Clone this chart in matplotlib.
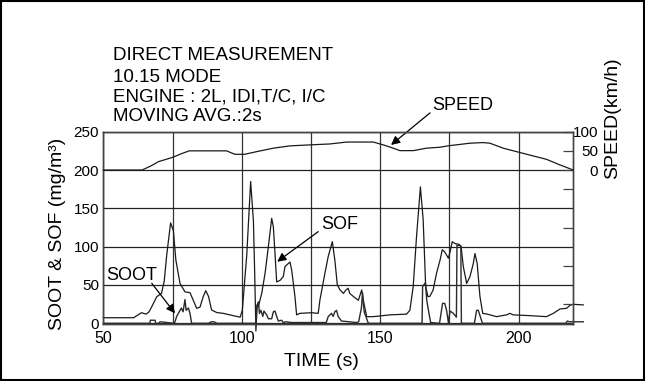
import matplotlib
matplotlib.use('Agg')
import matplotlib.pyplot as plt
from matplotlib.patches import Rectangle

plt.rcParams['font.family'] = ['Liberation Sans', 'DejaVu Sans']

# ---------------- data ----------------
sof_t = [50, 61, 62.5, 63.8, 65.5, 66.5, 67.5, 69.3, 71, 72, 72.9, 74.3, 75.3, 76.2, 77.7,
         79.5, 81.3, 82.5, 83.7, 84.9, 86.1, 87, 88, 89.1, 91, 93.3, 96.9, 99.4, 100.2,
         101.8, 103.2, 104.2, 104.7, 105.1, 105.6, 106, 107.2, 108.4, 109.6, 110.8, 111.4,
         112, 112.6, 113.8, 115, 115.6, 116.8, 117.4, 118, 119.2, 119.8, 121, 125.2, 127.6,
         128.2, 130, 131.2, 132.7, 133.6, 134.5, 135.5, 136.7, 137.6, 138.4, 139, 140.3,
         142.1, 143.3, 143.9, 145.1, 147.5, 153.5, 159.5, 160.7, 161.9, 163.1, 164.5, 165.5,
         166.4, 167.2, 167.9, 169.1, 170.3, 171.6, 172.4, 173.3, 174.6, 175.2, 176, 177,
         178.5, 179.2, 180, 181.2, 182.4, 183.6, 184.2, 185, 186, 187, 188.6, 192, 195.6,
         196.8, 198, 204, 210, 212.5, 214.9, 217.3, 218.5, 219.7, 223.3]
sof_v = [7.3, 7.3, 11, 13.8, 12, 15, 21.7, 34.7, 39, 55, 89, 131, 121, 82.6, 52,
         41, 40, 30, 19.6, 21, 35, 42.6, 35, 17.4, 14, 13, 10, 8, 17,
         89, 185, 134, 60, -10, 25, 22, 39, 65, 100, 137, 126,
         91, 54, 56, 61, 74, 78, 80, 70, 35, 11, 13, 13.8, 13,
         30, 65, 87, 106.5, 82.6, 50, 43.5, 39, 43.5, 45.7, 39, 35,
         30, 43.5, 30, 8.7, 8.7, 11, 12, 17, 48, 113, 178, 135,
         48, 35, 35, 43.5, 65, 82.6, 96, 93, 85, 93, 106.5, 104,
         103, 100, 74, 52, 61, 78, 91, 78, 35, 13, 12, 8.7, 11,
         13, 11, 10, 8.7, 13, 18.7, 19.6, 23.5, 24.8, 24]

soot_t = [50, 66.8, 67, 68.7, 68.9, 70, 70.5, 75.7, 76.5, 77.4, 78.2, 78.8, 79.5, 79.9,
          80.7, 81.3, 81.9, 88, 89, 90, 91, 104.2, 105.0, 105.4, 106, 106.4, 106.9, 107.6,
          108, 109, 109.6, 110.8, 111.4, 112, 112.6, 113.2, 114.4, 115, 116, 118, 130.5,
          131.2, 132.4, 133, 133.6, 134.2, 134.8, 136, 141.5, 142.2, 143.2, 143.6, 144.2,
          145.7, 165.1, 165.3, 166.3, 166.8, 167.5, 168.2, 171.4, 172.5, 173.3, 174, 174.6,
          175.2, 176.4, 177.5, 177.7, 179.1, 179.3, 184, 184.8, 185.4, 186.9, 217, 217.6,
          218.2, 223.3]
soot_v = [0, 0, 4, 4, 0, 0, 2, 0, 9, 15, 20, 15, 31, 17,
          20, 13, 0, 0, 2, 2, 0, 0, 0, 22, 28, 13, 17, 9,
          16, 11, 6, 6, 15, 16, 9, 3, 4, 1, 2, 1, 1,
          8.7, 13, 9, 15, 17, 9, 3, 1, 2, 20, 40, 15,
          0, 0, 48, 53, 30, 15, 1, 0, 26, 26, 16, 1,
          16, 13, 8, 102, 101, 0, 0, 17, 17, 0, 0, 3,
          2, 2]

speed_t = [50, 64, 67, 70, 75, 78, 81, 94.5, 97.5, 101, 105.4, 111.4, 117.4, 124.6, 131.8,
           137.9, 147.5, 151.1, 154.7, 157.1, 161.9, 166.7, 171.6, 174.4, 182.4, 187.2,
           189.6, 194.4, 199.2, 205.2, 210, 214.9, 219.7]
speed_v = [0, 0, 10, 22, 33, 42, 50, 50, 41, 41, 48, 57, 63, 65.6, 68,
           73, 73, 65.6, 57, 50.6, 50.6, 57, 59.5, 63, 70, 71.6,
           70, 57, 48, 36.8, 28, 13.3, 0]

x_ticks = [50, 100, 150, 200]
x_minor = [75, 125, 175]
y_ticks = [0, 50, 100, 150, 200, 250]
speed_ticks = [100, 50, 0, -50, -150, -250, -350]
speed_labels = ['100', '50', '0', '', '', '', '']

title_lines = ['DIRECT MEASUREMENT', '10.15 MODE', 'ENGINE : 2L, IDI,T/C, I/C', 'MOVING AVG.:2s']

# ---------------- figure ----------------
W, H = 645, 381
fig = plt.figure(figsize=(W / 100, H / 100), dpi=100)
L, R, T, B = 103.3, 573.0, 131.7, 324.0
ax = fig.add_axes([L / W, 1 - B / H, (R - L) / W, (B - T) / H])
ymin, ymax = -0.9, 250
ax.set_xlim(50, 219.6)
ax.set_ylim(ymin, ymax)

lc = '#1a1a1a'
ax.set_xticks(x_ticks)
ax.set_xticks(x_minor, minor=True)
ax.set_yticks(y_ticks)
ax.grid(True, which='both', axis='x', color='#333333', lw=0.9)
ax.grid(True, which='major', axis='y', color='#222222', lw=0.9)
ax.tick_params(axis='both', which='both', length=0)
ax.tick_params(axis='x', labelsize=11.5, pad=5)
ax.tick_params(axis='y', labelsize=11, pad=3)
for s in ax.spines.values():
    s.set_color('#444444')
    s.set_linewidth(1.0)

ax.plot(sof_t, sof_v, color=lc, lw=0.9, clip_on=False, zorder=3)
ax.plot(soot_t, soot_v, color='#2a2a2a', lw=1.0, clip_on=False, zorder=3)

ax2 = ax.twinx()
ax2.set_ylim(2 * (ymin - 200), 2 * (ymax - 200))
ax2.set_yticks(speed_ticks)
ax2.set_yticklabels(speed_labels)
ax2.tick_params(axis='y', direction='in', length=7, width=0.9, color='#444444',
                labelsize=11, pad=18)
for lab in ax2.get_yticklabels():
    lab.set_horizontalalignment('right')
for s in ax2.spines.values():
    s.set_color('#444444')
    s.set_linewidth(1.0)
ax2.plot(speed_t, speed_v, color=lc, lw=0.9, clip_on=False, zorder=3)

# ---------------- annotations ----------------
ap = dict(arrowstyle='-|>', color='black', lw=0.9, mutation_scale=13, shrinkA=0, shrinkB=0)
ax.annotate('', xy=(153.9, 232.7), xytext=(168.0, 274.6), arrowprops=ap, annotation_clip=False)
ax.text(168.7, 283.7, 'SPEED', fontsize=13, ha='left', va='center', clip_on=False)
ax.annotate('', xy=(112.8, 80.4), xytext=(127.6, 119.6), arrowprops=ap, annotation_clip=False)
ax.text(128.8, 128.3, 'SOF', fontsize=13, ha='left', va='center')
ax.annotate('', xy=(75.9, 13), xytext=(67.5, 52.2), arrowprops=ap, annotation_clip=False)
ax.text(51.2, 63, 'SOOT', fontsize=13, ha='left', va='center')

baselines = [60, 81.7, 101, 121]
for line, yb in zip(title_lines, baselines):
    fig.text(113 / W, 1 - yb / H, line, fontsize=13.5, ha='left', va='baseline')

fig.text(321 / W, 1 - 361 / H, 'TIME (s)', fontsize=14, ha='center', va='center')
fig.text(57 / W, 1 - 233.5 / H, 'SOOT & SOF (mg/m³)', fontsize=14, rotation=90,
         ha='center', va='center')
fig.text(613 / W, 1 - 118 / H, 'SPEED(km/h)', fontsize=14, rotation=90,
         ha='center', va='center')

fig.patches.append(Rectangle((0.8 / W, 0.8 / H), (W - 1.8) / W, (H - 1.8) / H,
                             transform=fig.transFigure, fill=False, lw=1.5, ec='black'))

fig.savefig('out.png', dpi=100)
